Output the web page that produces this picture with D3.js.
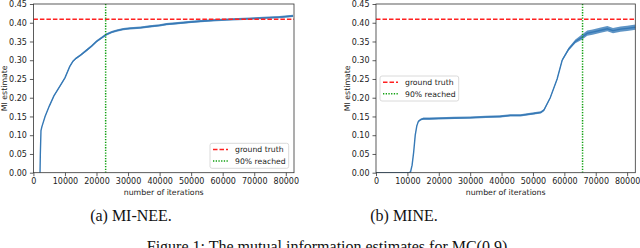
<!DOCTYPE html>
<html>
<head>
<meta charset="utf-8">
<script src="https://cdn.jsdelivr.net/npm/d3@7"></script>
<style>
  body { margin: 0; background: #fff; }
  svg { display: block; }
  .tick text { font-family: "DejaVu Sans", sans-serif; font-size: 8px; fill: #222; }
  .axis-label { font-family: "DejaVu Sans", sans-serif; font-size: 7.8px; fill: #222; }
  .legend-text { font-family: "DejaVu Sans", sans-serif; font-size: 7.7px; fill: #222; }
  .caption { font-family: "Liberation Serif", "Times New Roman", serif; font-size: 16px; fill: #111; }
</style>
</head>
<body>
<svg id="chart" width="640" height="248"></svg>
<script>
// 数据：[迭代次数, 估计值, 噪声半宽]
const mineeSeries = [
  [2100, 0.0, 0], [2200, 0.05, 0.001], [2400, 0.112, 0.001], [2700, 0.123, 0.001],
  [3700, 0.15, 0.001], [5000, 0.177, 0.0015], [6500, 0.205, 0.0015], [8500, 0.232, 0.002],
  [10000, 0.253, 0.002], [11500, 0.283, 0.002], [12500, 0.297, 0.0025], [13500, 0.305, 0.0025],
  [15000, 0.314, 0.0025], [16900, 0.327, 0.003], [18500, 0.338, 0.003], [20000, 0.35, 0.003],
  [22000, 0.362, 0.003], [23200, 0.369, 0.003], [24800, 0.375, 0.003], [26400, 0.379, 0.003],
  [28500, 0.383, 0.003], [30600, 0.385, 0.003], [34000, 0.387, 0.003], [36900, 0.390, 0.003],
  [40000, 0.393, 0.003], [42200, 0.396, 0.003], [45000, 0.398, 0.003], [47500, 0.400, 0.003],
  [50000, 0.402, 0.003], [53000, 0.404, 0.003], [58000, 0.407, 0.003], [63000, 0.409, 0.003],
  [68600, 0.411, 0.003], [73000, 0.413, 0.003], [78000, 0.415, 0.003], [82300, 0.418, 0.003]
];

const mineSeries = [
  [0, 0.0, 0], [10600, 0.0, 0], [11000, 0.002, 0], [11500, 0.02, 0.001], [12000, 0.055, 0.001],
  [12500, 0.10, 0.001], [13000, 0.125, 0.001], [13500, 0.137, 0.002], [14300, 0.142, 0.002],
  [15100, 0.144, 0.003], [17000, 0.144, 0.003], [20000, 0.145, 0.003], [25000, 0.146, 0.003],
  [30000, 0.147, 0.003], [35000, 0.149, 0.003], [39600, 0.150, 0.003], [42800, 0.153, 0.003],
  [46000, 0.153, 0.003], [50300, 0.158, 0.003], [52500, 0.161, 0.003], [53500, 0.167, 0.003],
  [55500, 0.20, 0.002], [57700, 0.25, 0.002], [59300, 0.30, 0.003], [61400, 0.33, 0.004],
  [63500, 0.35, 0.005], [65700, 0.362, 0.007], [67300, 0.372, 0.007], [69000, 0.375, 0.007],
  [71600, 0.38, 0.007], [73700, 0.384, 0.007], [75500, 0.379, 0.007], [77900, 0.383, 0.007],
  [80000, 0.385, 0.007], [82700, 0.388, 0.007]
];

const groundTruth = 0.409;
const reached90 = [22900, 65800];
const yTicks = [0, 0.05, 0.10, 0.15, 0.20, 0.25, 0.30, 0.35, 0.40, 0.45];
const xTicks = [0, 10000, 20000, 30000, 40000, 50000, 60000, 70000, 80000];
const legendLabels = ["ground truth", "90% reached"];
const subCaptions = ["(a) MI-NEE.", "(b) MINE."];
const figureCaption = "Figure 1: The mutual information estimates for MC(0.9)";

const svg = d3.select("#chart");
svg.append("rect").attr("width", 640).attr("height", 248).attr("fill", "#fff");

const RED = "#ff2020", GREEN = "#10a010", BLUE = "#3679b6";

// 绘制单个面板
function drawPanel(opts) {
  const x = d3.scaleLinear().domain([0, 82600]).range([opts.left, opts.right]);
  const y = d3.scaleLinear().domain([0, 0.45]).range([172.7, 4]);
  const g = svg.append("g");

  // 坐标轴
  g.append("g")
    .attr("transform", `translate(0,${y(0)})`)
    .call(d3.axisBottom(x).tickValues(xTicks).tickFormat(d3.format("d")).tickSize(3.5).tickPadding(2.5))
    .call(a => a.select(".domain").remove())
    .call(a => a.selectAll("line").attr("stroke", "#333").attr("stroke-width", 0.8));
  g.append("g")
    .attr("transform", `translate(${opts.left},0)`)
    .call(d3.axisLeft(y).tickValues(yTicks).tickFormat(d3.format(".2f")).tickSize(3.5).tickPadding(3))
    .call(a => a.select(".domain").remove())
    .call(a => a.selectAll("line").attr("stroke", "#333").attr("stroke-width", 0.8));

  // 噪声带
  const clip = "clip" + opts.id;
  g.append("clipPath").attr("id", clip).append("rect")
    .attr("x", opts.left).attr("y", 4).attr("width", opts.right - opts.left).attr("height", 168.7);
  const plot = g.append("g").attr("clip-path", `url(#${clip})`);

  plot.append("path")
    .datum(opts.data)
    .attr("fill", BLUE)
    .attr("opacity", 0.8)
    .attr("d", d3.area().x(d => x(d[0])).y0(d => y(d[1] - d[2])).y1(d => y(d[1] + d[2])));
  plot.append("path")
    .datum(opts.data)
    .attr("fill", "none")
    .attr("stroke", BLUE)
    .attr("stroke-width", 1.4)
    .attr("d", d3.line().x(d => x(d[0])).y(d => y(d[1])));

  // 参考线
  plot.append("line")
    .attr("x1", opts.left).attr("x2", opts.right)
    .attr("y1", y(groundTruth)).attr("y2", y(groundTruth))
    .attr("stroke", RED).attr("stroke-width", 1.5).attr("stroke-dasharray", "4.5,2");
  plot.append("line")
    .attr("x1", x(opts.reached)).attr("x2", x(opts.reached))
    .attr("y1", 4).attr("y2", 172.7)
    .attr("stroke", GREEN).attr("stroke-width", 1.5).attr("stroke-dasharray", "1.3,1.4");

  // 边框
  g.append("rect")
    .attr("x", opts.left).attr("y", 4)
    .attr("width", opts.right - opts.left).attr("height", 168.7)
    .attr("fill", "none").attr("stroke", "#333").attr("stroke-width", 0.8);

  // 轴标题
  g.append("text").attr("class", "axis-label")
    .attr("x", (opts.left + opts.right) / 2).attr("y", 195)
    .attr("text-anchor", "middle").text("number of iterations");
  g.append("text").attr("class", "axis-label")
    .attr("transform", `translate(${opts.ylabelX},88.3) rotate(-90)`)
    .attr("text-anchor", "middle").text("MI estimate");

  // 图例
  const lg = g.append("g").attr("transform", `translate(${opts.legend[0]},${opts.legend[1]})`);
  lg.append("rect").attr("width", 78.7).attr("height", 25).attr("rx", 2)
    .attr("fill", "#fff").attr("fill-opacity", 0.85).attr("stroke", "#d0d0d0").attr("stroke-width", 0.8);
  lg.append("line").attr("x1", 3).attr("x2", 18).attr("y1", 6.3).attr("y2", 6.3)
    .attr("stroke", RED).attr("stroke-width", 1.5).attr("stroke-dasharray", "4.5,2");
  lg.append("line").attr("x1", 3).attr("x2", 18).attr("y1", 17.8).attr("y2", 17.8)
    .attr("stroke", GREEN).attr("stroke-width", 1.5).attr("stroke-dasharray", "1.3,1.4");
  legendLabels.forEach((t, i) => {
    lg.append("text").attr("class", "legend-text")
      .attr("x", 25).attr("y", 9 + i * 11.5).text(t);
  });

  // 子标题
  svg.append("text").attr("class", "caption")
    .attr("x", opts.capX).attr("y", 221)
    .attr("text-anchor", "middle").text(opts.caption);
}

drawPanel({ id: "a", left: 33.4, right: 294, data: mineeSeries, reached: reached90[0],
  legend: [210, 143.3], ylabelX: 7, capX: 131, caption: subCaptions[0] });
drawPanel({ id: "b", left: 376, right: 635.3, data: mineSeries, reached: reached90[1],
  legend: [380, 76], ylabelX: 350, capX: 404, caption: subCaptions[1] });

// 图注（参考图中被底边截断）
svg.append("text").attr("class", "caption")
  .attr("x", 327).attr("y", 251.5)
  .attr("text-anchor", "middle").text(figureCaption);
</script>
</body>
</html>
